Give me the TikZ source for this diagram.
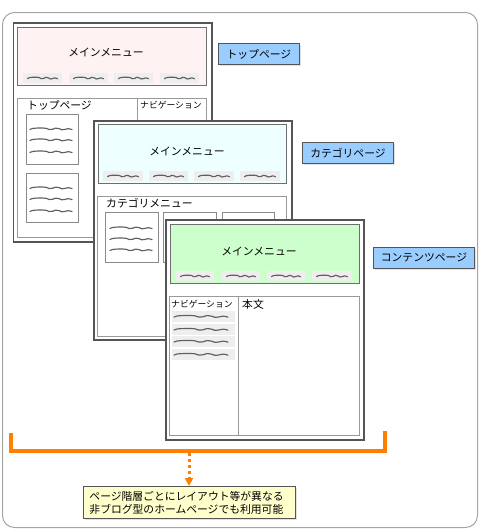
\documentclass[tikz,border=0pt]{standalone}
\usepackage{fontspec}
\newfontfamily\jp{Noto Sans CJK JP}
\usetikzlibrary{arrows.meta,shadows}
\definecolor{framec}{HTML}{555555}
\definecolor{menuc}{HTML}{6E6E6E}
\definecolor{boxc}{HTML}{999999}
\definecolor{subc}{HTML}{8A8A8A}
\definecolor{tabc}{HTML}{EEEEEE}
\definecolor{sqc}{HTML}{606060}
\definecolor{pinkc}{HTML}{FFF2F2}
\definecolor{cyanc}{HTML}{EEFFFF}
\definecolor{greenc}{HTML}{CCFFCC}
\definecolor{labelc}{HTML}{99CCFF}
\definecolor{notec}{HTML}{FFFFCC}
\definecolor{orangec}{HTML}{FF8000}
\tikzset{
  every node/.style={font=\jp\fontsize{10.8}{13}\selectfont, inner sep=0pt},
  small/.style={font=\jp\fontsize{8.8}{11}\selectfont},
  pageframe/.style={draw=framec, line width=1.8pt, fill=white},
  menubox/.style={draw=menuc, line width=1.3pt},
  contentbox/.style={draw=boxc, line width=1pt},
  subbox/.style={draw=subc, line width=1pt, fill=white},
  tagbox/.style={draw=framec, line width=0.9pt, fill=labelc, inner xsep=5pt,
     minimum height=21pt, drop shadow={shadow xshift=2pt, shadow yshift=-2pt, fill=gray!45}},
  notebox/.style={draw=framec, line width=0.9pt, fill=notec, align=left,
     drop shadow={shadow xshift=2pt, shadow yshift=-2pt, fill=gray!45}},
  sqline/.style={draw=sqc, line width=1.15pt, line join=round, line cap=round},
  pics/squig/.style={code={
    \draw[sqline] plot[smooth, tension=0.6] coordinates
      {(0,0.5) (2,-0.5) (5,-0.9) (10,-1.0) (13,-0.6) (15,0.5) (18,0.2) (20,-0.9) (23,-0.3) (25,0.8) (28,0.3) (30,-0.4) (33,0.6)};
  }},
}
% rectangle as a named node: name, x1, y1, x2, y2, style
\newcommand\rbox[6]{\node[#6, anchor=north west, minimum width={(#4-#2)*1pt}, minimum height={(#5-#3)*1pt}] (#1) at (#2,#3) {};}
% tab bar: x1 x2 ytop
\newcommand\tabbar[3]{\fill[tabc] (#1,#3) rectangle ({#2},{#3+10});
  \pic[xscale={(#2-#1-9)/33}] at ({#1+4.5},{#3+5.2}) {squig};}
% text line inside box: x1 length y
\newcommand\sqline[3]{\pic[xscale={#2/33}] at (#1,#3) {squig};}
\begin{document}
\begin{tikzpicture}[x=1pt,y=-1pt]
\useasboundingbox (0,0) rectangle (480,530);
% outer frame
\draw[draw=gray!70, line width=1pt, rounded corners=12pt] (2.5,12.5) rectangle (477.5,527.5);

% ---------- top page ----------
\rbox{p1}{12.5}{22}{211}{241}{pageframe}
\rbox{p1menu}{17}{27}{206}{85}{menubox, fill=pinkc}
\node (p1menut) at (106,52) {メインメニュー};
\tabbar{23}{62}{73}\tabbar{69}{108}{73}\tabbar{114}{153}{73}\tabbar{160}{199}{73}
\rbox{p1cont}{17}{98}{206}{237}{contentbox}
\draw[boxc, line width=1pt] (137,98) -- (137,237);
\node[anchor=west] (p1top) at (27,105) {トップページ};
\node[anchor=west, small] (p1nav) at (140,105) {ナビゲーション};
\rbox{p1a}{26}{114}{78}{164}{subbox}
\sqline{30}{42}{129}\sqline{30}{42}{140}\sqline{30}{42}{152}
\rbox{p1b}{26}{173}{78}{222}{subbox}
\sqline{30}{42}{188}\sqline{30}{42}{199}\sqline{30}{42}{211}
\node[tagbox, anchor=north west, minimum width=81pt] (tag1) at (218,43) {トップページ};

% ---------- category page ----------
\rbox{p2}{93}{120}{291}{339}{pageframe}
\rbox{p2menu}{98}{124}{286}{183}{menubox, fill=cyanc}
\node (p2menut) at (187,151) {メインメニュー};
\tabbar{103}{143}{171}\tabbar{149}{188}{171}\tabbar{194}{234}{171}\tabbar{240}{280}{171}
\rbox{p2cont}{97}{196}{286}{336}{contentbox}
\node[anchor=west] (p2cat) at (106,203) {カテゴリメニュー};
\rbox{p2a}{105}{212}{158}{262}{subbox}
\sqline{110}{42}{228}\sqline{110}{42}{239}\sqline{110}{42}{250}
\rbox{p2b}{163}{212}{216}{262}{subbox}
\rbox{p2c}{222}{212}{274}{262}{subbox}
\node[tagbox, anchor=north west, minimum width=91pt] (tag2) at (302,142) {カテゴリページ};

% ---------- contents page ----------
\rbox{p3}{165}{219}{363}{439}{pageframe}
\rbox{p3menu}{170}{224}{359}{283}{menubox, fill=greenc}
\node (p3menut) at (259,251) {メインメニュー};
\tabbar{176}{214}{271}\tabbar{222}{260}{271}\tabbar{267}{305}{271}\tabbar{312}{352}{271}
\rbox{p3cont}{169}{296}{359}{435}{contentbox}
\draw[boxc, line width=1pt] (238,296) -- (238,435);
\node[anchor=west, small] (p3nav) at (171,304) {ナビゲーション};
\node[anchor=west] (p3body) at (242,304) {本文};
\foreach \yy in {311,324,336,349}{
  \fill[tabc] (172,\yy) rectangle (235,{\yy+11});
  \pic[xscale={54/33}] at (174,{\yy+5.5}) {squig};
}
\node[tagbox, anchor=north west, minimum width=101pt] (tag3) at (373,247) {コンテンツページ};

% ---------- bracket and note ----------
\coordinate (bl) at (10.5,433);
\coordinate (br) at (384.5,431);
\coordinate (bm) at (189,450.5);
\coordinate (am) at (189,453);
\draw[orangec, line width=4pt] (bl) -- (bl |- bm) -- (br |- bm) -- (br);
\node[notebox, anchor=north west, minimum width=212pt, minimum height=32pt, text width=200pt, inner xsep=6pt] (note) at (83,486)
  {ページ階層ごとにレイアウト等が異なる\\非ブログ型のホームページでも利用可能};
\draw[orangec, line width=3pt, dash pattern=on 3pt off 3pt, -{Triangle[length=8pt,width=8pt]}] (am) -- (note.north -| am);
\end{tikzpicture}
\end{document}
